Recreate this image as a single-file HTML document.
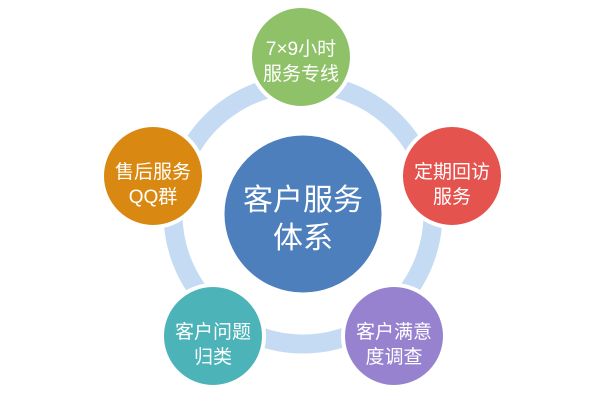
<!DOCTYPE html>
<html><head><meta charset="utf-8"><style>
html,body{margin:0;padding:0;background:#fff;}
svg{display:block;}
text{font-family:"Liberation Sans","Noto Sans CJK SC",sans-serif;fill:#fff;text-anchor:middle;}
</style></head><body>
<svg width="600" height="400" viewBox="0 0 600 400">
<circle cx="303" cy="214" r="130" fill="none" stroke="#c5dbf3" stroke-width="19"/>
<circle cx="303" cy="214" r="80" fill="#4d7fbc" stroke="#fff" stroke-width="3"/>
<text x="303" y="210" font-size="30">客户服务</text>
<text x="303" y="248" font-size="30">体系</text>
<g stroke="#fff" stroke-width="4">
<circle cx="301" cy="57" r="51" fill="#8fc169"/>
<circle cx="452" cy="176" r="51" fill="#e5534e"/>
<circle cx="153" cy="176" r="51" fill="#d98812"/>
<circle cx="394" cy="336" r="51" fill="#9782cf"/>
<circle cx="213" cy="336" r="51" fill="#4cb3b8"/>
</g>
<g font-size="19">
<text x="301" y="55">7×9小时</text><text x="301" y="80">服务专线</text>
<text x="452" y="178">定期回访</text><text x="452" y="203">服务</text>
<text x="153" y="178">售后服务</text><text x="153" y="203">QQ群</text>
<text x="394" y="338">客户满意</text><text x="394" y="363">度调查</text>
<text x="213" y="338">客户问题</text><text x="213" y="363">归类</text>
</g>
</svg>
</body></html>
